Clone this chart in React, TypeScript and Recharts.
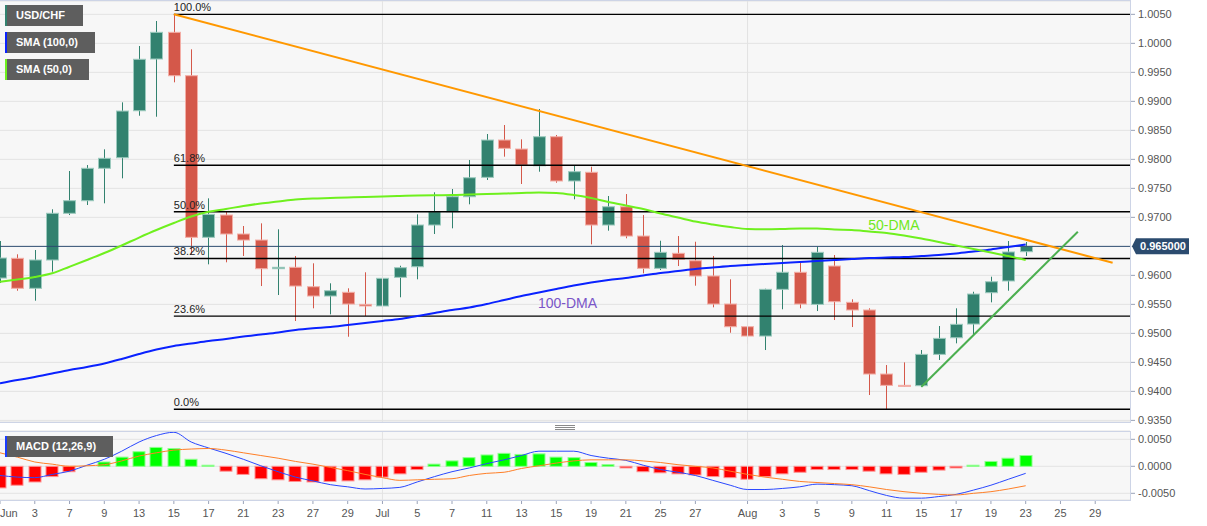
import React from 'react';
import { ComposedChart, Bar, Line, XAxis, YAxis, CartesianGrid, ReferenceLine, ReferenceDot } from 'recharts';

// ---------------- data ----------------
const dates = [
  'Jun 1', 'Jun 2', 'Jun 3', 'Jun 6', 'Jun 7', 'Jun 8', 'Jun 9', 'Jun 10', 'Jun 13', 'Jun 14',
  'Jun 15', 'Jun 16', 'Jun 17', 'Jun 20', 'Jun 21', 'Jun 22', 'Jun 23', 'Jun 24', 'Jun 27', 'Jun 28',
  'Jun 29', 'Jun 30', 'Jul 1', 'Jul 4', 'Jul 5', 'Jul 6', 'Jul 7', 'Jul 8', 'Jul 11', 'Jul 12',
  'Jul 13', 'Jul 14', 'Jul 15', 'Jul 18', 'Jul 19', 'Jul 20', 'Jul 21', 'Jul 22', 'Jul 25', 'Jul 26',
  'Jul 27', 'Jul 28', 'Jul 29', 'Aug 1', 'Aug 2', 'Aug 3', 'Aug 4', 'Aug 5', 'Aug 8', 'Aug 9',
  'Aug 10', 'Aug 11', 'Aug 12', 'Aug 15', 'Aug 16', 'Aug 17', 'Aug 18', 'Aug 19', 'Aug 22', 'Aug 23',
];

const openP = [
  0.95954, 0.96294, 0.95777, 0.96265, 0.9707, 0.97287, 0.97846, 0.98028, 0.98838, 0.9973,
  1.0019, 0.99442, 0.96656, 0.9704, 0.96713, 0.96609, 0.96115, 0.96139, 0.95804, 0.95644,
  0.95708, 0.955, 0.95472, 0.95966, 0.96149, 0.96868, 0.97097, 0.97356, 0.9769, 0.98333,
  0.98178, 0.97889, 0.9839, 0.97627, 0.97777, 0.96868, 0.97183, 0.96678, 0.96121, 0.9638,
  0.96252, 0.95989, 0.95506, 0.95115, 0.94954, 0.95759, 0.96053, 0.955, 0.96161, 0.95535,
  0.95403, 0.94299, 0.94104, 0.94098, 0.94638, 0.94925, 0.95161, 0.95701, 0.95903, 0.96408,
];
const highP = [
  0.96592, 0.96363, 0.96437, 0.97139, 0.97799, 0.97902, 0.98173, 0.98983, 0.99954, 1.00385,
  1.005, 0.99897, 0.97328, 0.97097, 0.96851, 0.96897, 0.96794, 0.96334, 0.96208, 0.95863,
  0.95777, 0.96053, 0.9642, 0.96166, 0.97052, 0.97432, 0.97489, 0.97989, 0.98437, 0.98592,
  0.98345, 0.98868, 0.9842, 0.97902, 0.97873, 0.97368, 0.97402, 0.9704, 0.96597, 0.96678,
  0.9658, 0.96334, 0.95932, 0.95356, 0.9577, 0.96523, 0.96218, 0.96494, 0.96351, 0.95587,
  0.95432, 0.94454, 0.945, 0.94713, 0.95127, 0.95432, 0.95718, 0.95977, 0.96592, 0.96575,
];
const lowP = [
  0.95868, 0.95735, 0.95563, 0.96063, 0.9704, 0.97213, 0.97242, 0.97673, 0.98752, 0.98735,
  0.99328, 0.96363, 0.9619, 0.96225, 0.96334, 0.95816, 0.95661, 0.95213, 0.95432, 0.95328,
  0.94942, 0.95299, 0.95432, 0.95622, 0.95932, 0.96713, 0.96811, 0.97225, 0.97644, 0.98046,
  0.97575, 0.97787, 0.97597, 0.97311, 0.96535, 0.9677, 0.96639, 0.96035, 0.96092, 0.96161,
  0.95822, 0.95449, 0.95011, 0.94816, 0.94713, 0.95415, 0.95432, 0.95385, 0.9523, 0.95109,
  0.93937, 0.93691, 0.94083, 0.94074, 0.94541, 0.94828, 0.94972, 0.95535, 0.95735, 0.96334,
];
const closeP = [
  0.96299, 0.95777, 0.96265, 0.9707, 0.97287, 0.97846, 0.98018, 0.98833, 0.99725, 1.0019,
  0.99442, 0.96656, 0.97052, 0.96713, 0.96609, 0.96115, 0.96139, 0.95816, 0.95644, 0.95735,
  0.95506, 0.95472, 0.95949, 0.96132, 0.96868, 0.97097, 0.97356, 0.97683, 0.98333, 0.9819,
  0.97902, 0.9839, 0.97627, 0.97787, 0.96868, 0.97183, 0.96678, 0.96121, 0.96397, 0.96277,
  0.95989, 0.95506, 0.95115, 0.94954, 0.95759, 0.96053, 0.95506, 0.96397, 0.95546, 0.95403,
  0.94299, 0.94104, 0.94095, 0.94638, 0.94914, 0.95156, 0.95678, 0.9589, 0.96403, 0.965,
];
const sma100 = [
  0.94139, 0.94196, 0.94247, 0.94308, 0.94368, 0.9442, 0.9448, 0.94558, 0.94644, 0.94722,
  0.94782, 0.94825, 0.94868, 0.94903, 0.94946, 0.9498, 0.95015, 0.95058, 0.95087, 0.95109,
  0.95144, 0.95178, 0.95213, 0.95247, 0.95299, 0.95351, 0.95403, 0.95446, 0.95506, 0.95575,
  0.95644, 0.95704, 0.95765, 0.95825, 0.95877, 0.9592, 0.95954, 0.95997, 0.96041, 0.96075,
  0.9611, 0.96135, 0.96161, 0.96179, 0.96196, 0.96213, 0.9623, 0.96247, 0.96265, 0.96282,
  0.96299, 0.96308, 0.96316, 0.96334, 0.96351, 0.96377, 0.96411, 0.96446, 0.96489, 0.96532,
];
const sma50 = [
  0.9589, 0.95928, 0.95971, 0.96035, 0.96149, 0.96265, 0.96385, 0.96515, 0.96652, 0.96782,
  0.96902, 0.97015, 0.97097, 0.97144, 0.97196, 0.97239, 0.97273, 0.97308, 0.97325, 0.97333,
  0.97342, 0.97351, 0.97359, 0.97368, 0.97377, 0.97382, 0.97385, 0.97394, 0.97402, 0.97411,
  0.9742, 0.97428, 0.9742, 0.97385, 0.97333, 0.97265, 0.97204, 0.97144, 0.97066, 0.96997,
  0.96928, 0.96877, 0.96833, 0.96799, 0.96794, 0.96799, 0.96808, 0.96808, 0.9679, 0.96782,
  0.96756, 0.9673, 0.96687, 0.96635, 0.96575, 0.96515, 0.96454, 0.96394, 0.96334, 0.96265,
];
const macdLine = [
  -0.0017, -0.002, -0.0021, -0.0015, -0.0009, 0.0002, 0.0013, 0.0028, 0.0045, 0.0057,
  0.0063, 0.0045, 0.0034, 0.0024, 0.0013, 0.0001, -0.001, -0.002, -0.0027, -0.0034,
  -0.0038, -0.0042, -0.0041, -0.0039, -0.0029, -0.0019, -0.001, -0.0003, 0.0005, 0.0012,
  0.002, 0.0028, 0.0028, 0.0028, 0.002, 0.0015, 0.0011, 0.0002, -0.0006, -0.0011,
  -0.0017, -0.0026, -0.0035, -0.0043, -0.0043, -0.0041, -0.0038, -0.0033, -0.0034, -0.0036,
  -0.0045, -0.0054, -0.0059, -0.0059, -0.0056, -0.0052, -0.0044, -0.0035, -0.0024, -0.0013,
];
const signalLine = [
  0.0025, 0.0017, 0.0008, 0.0004, 0.0, 0.0001, 0.0003, 0.001, 0.0019, 0.0025,
  0.003, 0.0032, 0.0033, 0.003, 0.0025, 0.002, 0.0015, 0.0009, 0.0004, -0.0002,
  -0.0008, -0.0015, -0.0021, -0.0026, -0.0025, -0.0024, -0.0023, -0.0017, -0.0013, -0.0011,
  -0.0004, 0.0001, 0.0006, 0.001, 0.0012, 0.0012, 0.0012, 0.001, 0.0007, 0.0003,
  0.0, -0.0003, -0.0009, -0.0015, -0.002, -0.0024, -0.0028, -0.003, -0.0032, -0.0034,
  -0.0038, -0.0043, -0.0047, -0.005, -0.0052, -0.0053, -0.005, -0.0047, -0.0042, -0.0036,
];
const histogram = [
  -0.004, -0.0035, -0.0029, -0.0019, -0.001, 0.0, 0.0008, 0.0017, 0.0027, 0.0035,
  0.0033, 0.0013, 0.0002, -0.0009, -0.0015, -0.0023, -0.0025, -0.0028, -0.0029, -0.0028,
  -0.0027, -0.0025, -0.002, -0.0014, -0.0006, 0.0004, 0.001, 0.0016, 0.0021, 0.0024,
  0.0022, 0.0023, 0.0017, 0.0016, 0.0007, 0.0003, -0.0003, -0.001, -0.0012, -0.0014,
  -0.0016, -0.0019, -0.0021, -0.0024, -0.0019, -0.0014, -0.0011, -0.0006, -0.0006, -0.0006,
  -0.0009, -0.0014, -0.0015, -0.0011, -0.0007, -0.0003, 0.0002, 0.0009, 0.0015, 0.002,
];

const fibLevels = [1.005, 0.97899, 0.970955, 0.96292, 0.95298, 0.93691];
const fibLabels = ['100.0%', '61.8%', '50.0%', '38.2%', '23.6%', '0.0%'];
const fibStartIdx = 10;

const priceTicks = [0.935, 0.94, 0.945, 0.95, 0.955, 0.96, 0.97, 0.975, 0.98, 0.985, 0.99, 0.995, 1.0, 1.005];
const macdTicks = [-0.005, 0, 0.005];
const xTickIdx = [0, 2, 4, 6, 8, 10, 12, 14, 16, 18, 20, 22, 24, 26, 28, 30, 32, 34, 36, 38, 40, 43, 45, 47, 49, 51, 53, 55, 57, 59, 61, 63];
const xTickLabels = ['Jun', '3', '7', '9', '13', '15', '17', '21', '23', '27', '29', 'Jul', '5', '7', '11', '13', '15', '19', '21', '25', '27', 'Aug', '3', '5', '9', '11', '15', '17', '19', '23', '25', '29'];
const monthStartIdx = [22, 43];

const lastPrice = 0.965;
const resistance = [{ x: 10, y: 1.005 }, { x: 64, y: 0.96218 }];
const support = [{ x: 53, y: 0.9408 }, { x: 62, y: 0.96753 }];
const label50 = { x: 50, y: 0.96765, text: '50-DMA' };
const label100 = { x: 31, y: 0.95428, text: '100-DMA' };

// ---------------- layout / style ----------------
const W = 1207;
const PLOT_W = 1130;
const AXIS_W = W - PLOT_W;
const X_DOMAIN: [number, number] = [0, 65];
const PRICE_DOMAIN: [number, number] = [0.93472, 1.0073];
const MACD_DOMAIN: [number, number] = [-0.00624, 0.00654];

const UP = '#32826f';
const UP_EDGE = '#9ccabe';
const DOWN = '#d4584a';
const DOWN_EDGE = '#f3aea6';
const BG = '#f7f7f7';
const GRID = '#e3e3e3';
const BORDER = '#cdd4e6';
const FONT = "'Liberation Sans', Arial, sans-serif";

const rows = dates.map((d, i) => ({
  i,
  date: d,
  o: openP[i],
  h: highP[i],
  l: lowP[i],
  c: closeP[i],
  sma50: sma50[i],
  sma100: sma100[i],
  macd: macdLine[i],
  signal: signalLine[i],
  hist: histogram[i],
}));

const Candle = (props: any) => {
  const { x, y, width, height, payload } = props;
  if (!payload || x == null) return null;
  const { o, h, l, c } = payload;
  const top = Math.min(y, y + height);
  const span = Math.abs(height);
  const k = span / (h - l);
  const py = (v: number) => top + (h - v) * k;
  const cx = Math.round(x + width / 2) + 0.5;
  const up = c >= o;
  const fill = up ? UP : DOWN;
  const edge = up ? UP_EDGE : DOWN_EDGE;
  const bt = py(Math.max(o, c));
  const bb = py(Math.min(o, c));
  const bh = Math.max(bb - bt, 1);
  const left = Math.round(cx - width / 2);
  return (
    <g>
      <line x1={cx} x2={cx} y1={py(h)} y2={py(l)} stroke={fill} strokeWidth={1} />
      <rect x={left + 0.5} y={bt} width={width - 1} height={bh} fill={fill} stroke={edge} strokeWidth={1} />
    </g>
  );
};

const HistBar = (props: any) => {
  const { x, y, width, height, payload } = props;
  if (!payload || x == null) return null;
  const top = Math.min(y, y + height);
  const h = Math.abs(height);
  if (h < 0.5) return null;
  const pos = payload.hist >= 0;
  const cx = Math.round(x + width / 2);
  return (
    <rect
      x={cx - width / 2 + 0.5}
      y={top}
      width={width - 1}
      height={h}
      fill={pos ? '#00ff00' : '#ff0000'}
      stroke={pos ? '#8cff8c' : '#ff9090'}
      strokeWidth={1}
    />
  );
};

const FibLabel = (props: any) => {
  const vb = props.viewBox || {};
  return (
    <text x={vb.x} y={vb.y - 3} fontSize={11} fill="#222" fontFamily={FONT}>
      {props.text}
    </text>
  );
};

const PriceTag = (props: any) => {
  const vb = props.viewBox || {};
  const yy = vb.y;
  const xx = vb.x + vb.width + 2;
  return (
    <g>
      <path
        d={`M ${xx} ${yy} L ${xx + 4} ${yy - 8} L ${xx + 57} ${yy - 8} L ${xx + 57} ${yy + 8} L ${xx + 4} ${yy + 8} Z`}
        fill="#2b4b6f"
      />
      <text x={xx + 31} y={yy + 4} textAnchor="middle" fontSize={11} fontWeight="bold" fill="#fff" fontFamily={FONT}>
        {props.text}
      </text>
    </g>
  );
};

const NoteLabel = (props: any) => {
  const vb = props.viewBox || {};
  return (
    <text x={vb.x} y={vb.y} fontSize={14} fill={props.color} fontFamily={FONT}>
      {props.text}
    </text>
  );
};

const XTick = (props: any) => {
  const { x, y, payload } = props;
  const pos = xTickIdx.indexOf(payload.value);
  const txt = pos >= 0 ? xTickLabels[pos] : '';
  const anchor = payload.value === 0 ? 'start' : 'middle';
  return (
    <text x={x} y={y} dy="0.71em" textAnchor={anchor} fontSize={11} fill="#555" fontFamily={FONT}>
      {txt}
    </text>
  );
};

const legendBox = (top: number, width: number, color: string): React.CSSProperties => ({
  position: 'absolute',
  left: 5,
  top,
  width,
  height: 21,
  boxSizing: 'border-box',
  background: '#5e5e5e',
  borderLeft: `2px solid ${color}`,
  color: '#fff',
  fontWeight: 'bold',
  fontSize: 11,
  lineHeight: '21px',
  paddingLeft: 9,
  fontFamily: FONT,
  whiteSpace: 'nowrap',
});

export default function App() {
  return (
    <div style={{ position: 'absolute', left: 0, top: 0, width: W, height: 526, background: '#fff', fontFamily: FONT, overflow: 'hidden' }}>
      {/* main price panel */}
      <div style={{ position: 'absolute', left: 0, top: 0 }}>
        <ComposedChart width={W} height={431} data={rows} margin={{ top: 1, right: 0, bottom: 9, left: 0 }}>
          <CartesianGrid vertical={false} stroke={GRID} fill={BG} />
          <XAxis dataKey="i" type="number" domain={X_DOMAIN} hide allowDataOverflow />
          <YAxis
            orientation="right"
            type="number"
            domain={PRICE_DOMAIN}
            allowDataOverflow
            ticks={priceTicks}
            interval={0}
            width={AXIS_W}
            tickFormatter={(v: number) => v.toFixed(4)}
            tick={{ fontSize: 11, fill: '#555' }}
            tickSize={5}
            tickMargin={3}
            axisLine={false}
            tickLine={{ stroke: '#9aa3b8' }}
          />
          {monthStartIdx.map((m) => (
            <ReferenceLine key={'m' + m} x={m} stroke={GRID} strokeWidth={1} />
          ))}
          {fibLevels.map((lv, k) => (
            <ReferenceLine
              key={'f' + k}
              segment={[{ x: fibStartIdx, y: lv }, { x: X_DOMAIN[1], y: lv }]}
              stroke="#000"
              strokeWidth={1.4}
              label={<FibLabel text={fibLabels[k]} />}
            />
          ))}
          <ReferenceLine y={lastPrice} stroke="#2b4b6f" strokeWidth={1} label={<PriceTag text={lastPrice.toFixed(6)} />} />
          <Bar dataKey={(d: any) => [d.l, d.h]} barSize={13} shape={<Candle />} isAnimationActive={false} />
          <Line type="monotone" dataKey="sma100" stroke="#0a22ff" strokeWidth={2} dot={false} activeDot={false} isAnimationActive={false} />
          <Line type="monotone" dataKey="sma50" stroke="#6ff01e" strokeWidth={2} dot={false} activeDot={false} isAnimationActive={false} />
          <ReferenceLine segment={resistance} stroke="#ff9800" strokeWidth={2} />
          <ReferenceLine segment={support} stroke="#4caf50" strokeWidth={2} />
          <ReferenceDot x={label50.x} y={label50.y} r={1} fill="none" stroke="none" label={<NoteLabel text={label50.text} color="#6fe81c" />} />
          <ReferenceDot x={label100.x} y={label100.y} r={1} fill="none" stroke="none" label={<NoteLabel text={label100.text} color="#7a55c8" />} />
        </ComposedChart>
      </div>
      <div style={{ position: 'absolute', left: 0, top: 0, width: PLOT_W + 1, height: 423, boxSizing: 'border-box', borderTop: `1px solid ${BORDER}`, borderRight: `1px solid ${BORDER}`, borderBottom: `1px solid ${BORDER}`, pointerEvents: 'none' }} />

      {/* MACD panel */}
      <div style={{ position: 'absolute', left: 0, top: 423 }}>
        <ComposedChart width={W} height={103} data={rows} margin={{ top: 8, right: 0, bottom: 0, left: 0 }}>
          <CartesianGrid vertical={false} stroke={GRID} fill={BG} />
          <XAxis
            dataKey="i"
            type="number"
            domain={X_DOMAIN}
            allowDataOverflow
            ticks={xTickIdx}
            interval={0}
            height={26}
            tick={<XTick />}
            tickSize={4}
            tickMargin={5}
            axisLine={false}
            tickLine={{ stroke: '#9aa3b8' }}
          />
          <YAxis
            orientation="right"
            type="number"
            domain={MACD_DOMAIN}
            allowDataOverflow
            ticks={macdTicks}
            interval={0}
            width={AXIS_W}
            tickFormatter={(v: number) => v.toFixed(4)}
            tick={{ fontSize: 11, fill: '#555' }}
            tickSize={5}
            tickMargin={3}
            axisLine={false}
            tickLine={{ stroke: '#9aa3b8' }}
          />
          {monthStartIdx.map((m) => (
            <ReferenceLine key={'mm' + m} x={m} stroke={GRID} strokeWidth={1} />
          ))}
          <Bar dataKey="hist" barSize={13} shape={<HistBar />} isAnimationActive={false} />
          <Line type="monotone" dataKey="macd" stroke="#2a48ff" strokeWidth={1} dot={false} activeDot={false} isAnimationActive={false} />
          <Line type="monotone" dataKey="signal" stroke="#ff7f27" strokeWidth={1} dot={false} activeDot={false} isAnimationActive={false} />
        </ComposedChart>
      </div>
      <div style={{ position: 'absolute', left: 0, top: 431, width: PLOT_W + 1, height: 70, boxSizing: 'border-box', borderTop: `1px solid ${BORDER}`, borderRight: `1px solid ${BORDER}`, borderBottom: `1px solid ${BORDER}`, pointerEvents: 'none' }} />

      {/* legend tags */}
      <div style={legendBox(5, 78, UP)}>USD/CHF</div>
      <div style={legendBox(32, 90, '#0a22ff')}>SMA (100,0)</div>
      <div style={legendBox(59, 84, '#6ff01e')}>SMA (50,0)</div>
      <div style={legendBox(436, 108, '#1a3cff')}>MACD (12,26,9)</div>

      {/* panel resize handle */}
      {[425, 427, 429].map((t) => (
        <div key={t} style={{ position: 'absolute', left: 555, top: t, width: 20, height: 1, background: '#8a8a8a' }} />
      ))}
    </div>
  );
}
